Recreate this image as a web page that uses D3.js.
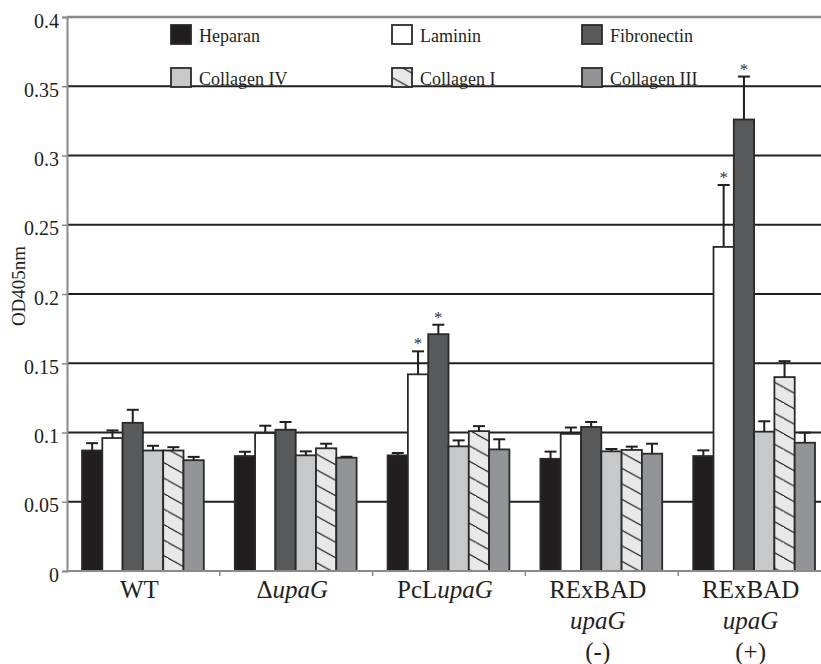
<!DOCTYPE html>
<html>
<head>
<meta charset="utf-8">
<script src="https://cdn.jsdelivr.net/npm/d3@7/dist/d3.min.js"></script>
<style>
  body { margin: 0; background: #fff; }
  svg text { font-family: "Liberation Serif", "Times New Roman", serif; fill: #231f20; }
</style>
</head>
<body>
<svg id="chart" width="821" height="664"></svg>
<script>
// groups along the x axis, each label is a list of lines made of [text, italic] parts
var groups = ["WT", "dupaG", "PcLupaG", "RExBAD-", "RExBAD+"];
var groupLabels = [
    [[["WT", false]]],
    [[["\u0394", false], ["upaG", true]]],
    [[["PcL", false], ["upaG", true]]],
    [[["RExBAD", false]], [["upaG", true]], [["(-)", false]]],
    [[["RExBAD", false]], [["upaG", true]], [["(+)", false]]]
];

// matrices (series)
var matrices = ["Heparan", "Laminin", "Fibronectin", "Collagen IV", "Collagen I", "Collagen III"];

// OD405nm per group, one array per matrix
var heparan     = [0.087, 0.083, 0.0835, 0.081, 0.083];
var laminin     = [0.096, 0.0996, 0.142, 0.099, 0.234];
var fibronectin = [0.107, 0.102, 0.171, 0.104, 0.326];
var collagenIV  = [0.087, 0.0835, 0.090, 0.0864, 0.1006];
var collagenI   = [0.087, 0.0886, 0.101, 0.0874, 0.140];
var collagenIII = [0.080, 0.0818, 0.0878, 0.0847, 0.0926];

// standard error (upper bars only)
var heparanErr     = [0.0053, 0.0031, 0.0017, 0.0052, 0.0041];
var lamininErr     = [0.0055, 0.0053, 0.0166, 0.0046, 0.0447];
var fibronectinErr = [0.0094, 0.0056, 0.0068, 0.0036, 0.031];
var collagenIVErr  = [0.0034, 0.0029, 0.0043, 0.0017, 0.0075];
var collagenIErr   = [0.0024, 0.0033, 0.0036, 0.0024, 0.0115];
var collagenIIIErr = [0.0024, 0.0007, 0.0073, 0.0072, 0.0073];

// significance markers (*)
var lamininSig     = [0, 0, 1, 0, 1];
var fibronectinSig = [0, 0, 1, 0, 1];

var yTicks = [0, 0.05, 0.1, 0.15, 0.2, 0.25, 0.3, 0.35, 0.4];

var values = [heparan, laminin, fibronectin, collagenIV, collagenI, collagenIII];
var errors = [heparanErr, lamininErr, fibronectinErr, collagenIVErr, collagenIErr, collagenIIIErr];
var sigs = [null, lamininSig, fibronectinSig, null, null, null];
var fills = ["#221e1f", "#ffffff", "#58595b", "#c7c8ca", "url(#hatch)", "#929497"];

var svg = d3.select("#chart");

var x0 = d3.scaleBand().domain(groups).range([67, 831]);
var x1 = d3.scaleBand().domain(matrices).range([15, x0.bandwidth() - 16]);
var y = d3.scaleLinear().domain([0, 0.4]).range([571, 17]);

// hatch pattern for collagen I
var hw = 28, hh = 15.5;
var defs = svg.append("defs");
var pat = defs.append("pattern")
    .attr("id", "hatch")
    .attr("patternUnits", "userSpaceOnUse")
    .attr("width", hw).attr("height", hh);
pat.append("rect").attr("width", hw).attr("height", hh).attr("fill", "#e8e8e8");
pat.append("path")
    .attr("d", "M-2," + (-2 * hh / hw) + "L" + (hw + 2) + "," + (hh + 2 * hh / hw) +
               "M" + (-hw - 2) + "," + (-2 * hh / hw) + "L2," + (hh + 2 * hh / hw) +
               "M" + (hw - 2) + "," + (-hh - 2 * hh / hw) + "L" + (2 * hw + 2) + "," + (2 * hh / hw))
    .attr("stroke", "#231f20").attr("stroke-width", 1.1);

// gridlines
svg.append("g").selectAll("line")
    .data(yTicks.filter(function(d){ return d > 0 && d < 0.4; }))
    .enter().append("line")
    .attr("x1", 67).attr("x2", 831)
    .attr("y1", function(d){ return y(d); })
    .attr("y2", function(d){ return y(d); })
    .attr("stroke", "#231f20").attr("stroke-width", 2);

// top frame
svg.append("line")
    .attr("x1", 67).attr("x2", 831).attr("y1", y(0.4)).attr("y2", y(0.4))
    .attr("stroke", "#8a8a8a").attr("stroke-width", 2.5);

// bars
var bars = [];
matrices.forEach(function(m, i){
    groups.forEach(function(g, j){
        bars.push({group: g, matrix: m, i: i, v: values[i][j], e: errors[i][j], sig: sigs[i] ? sigs[i][j] : 0});
    });
});

svg.append("g").selectAll("rect")
    .data(bars).enter().append("rect")
    .attr("x", function(d){ return x0(d.group) + x1(d.matrix); })
    .attr("y", function(d){ return y(d.v); })
    .attr("width", x1.bandwidth())
    .attr("height", function(d){ return y(0) - y(d.v); })
    .attr("fill", function(d){ return fills[d.i]; })
    .attr("stroke", "#2a2a2a")
    .attr("stroke-width", 1.8);

// error bars
var eb = svg.append("g").attr("stroke", "#231f20").attr("stroke-width", 2);
bars.forEach(function(d){
    var cx = x0(d.group) + x1(d.matrix) + x1.bandwidth() / 2;
    eb.append("line").attr("x1", cx).attr("x2", cx).attr("y1", y(d.v)).attr("y2", y(d.v + d.e));
    eb.append("line").attr("x1", cx - 6).attr("x2", cx + 6).attr("y1", y(d.v + d.e)).attr("y2", y(d.v + d.e));
    if (d.sig) {
        svg.append("text")
            .attr("x", cx).attr("y", y(d.v + d.e) - 2)
            .attr("text-anchor", "middle")
            .style("font-size", "17px")
            .style("fill", "#333")
            .text("*");
    }
});

// y axis
var yAxis = svg.append("g")
    .attr("transform", "translate(67,0)")
    .call(d3.axisLeft(y).tickValues(yTicks).tickSize(5).tickPadding(3)
        .tickFormat(function(d){ return d === 0 ? "0" : String(+d.toFixed(2)); }));
yAxis.select(".domain").attr("stroke", "#8a8a8a").attr("stroke-width", 2);
yAxis.selectAll(".tick line").attr("stroke", "#8a8a8a").attr("stroke-width", 1.5);
yAxis.selectAll(".tick text")
    .attr("dy", "0.5em")
    .style("font-size", "20px")
    .style("font-family", "Liberation Serif, serif")
    .attr("fill", "#231f20");

// x axis
var xAxis = svg.append("g")
    .attr("transform", "translate(0,571)");
xAxis.append("line").attr("x1", 67).attr("x2", 831)
    .attr("stroke", "#8a8a8a").attr("stroke-width", 2);
xAxis.selectAll(".sep")
    .data(groups.slice(1)).enter().append("line")
    .attr("x1", function(d){ return x0(d); })
    .attr("x2", function(d){ return x0(d); })
    .attr("y1", 0).attr("y2", 5)
    .attr("stroke", "#8a8a8a").attr("stroke-width", 1.5);

groups.forEach(function(g, j){
    var cx = x0(g) + x0.bandwidth() / 2 - 4;
    groupLabels[j].forEach(function(line, k){
        var t = svg.append("text")
            .attr("x", cx).attr("y", 598 + k * 31)
            .attr("text-anchor", "middle")
            .style("font-size", "25px");
        line.forEach(function(part){
            t.append("tspan")
                .style("font-style", part[1] ? "italic" : "normal")
                .text(part[0]);
        });
    });
});

// y axis title
svg.append("text")
    .attr("transform", "translate(25,286) rotate(-90)")
    .attr("text-anchor", "middle")
    .style("font-size", "19px")
    .text("OD405nm");

// legend
var legendCols = [171, 392, 582];
var legendRows = [25, 68];
matrices.forEach(function(m, i){
    var lx = legendCols[i % 3], ly = legendRows[Math.floor(i / 3)];
    svg.append("rect")
        .attr("x", lx).attr("y", ly).attr("width", 20).attr("height", 19)
        .attr("fill", fills[i]).attr("stroke", "#2a2a2a").attr("stroke-width", 1.8);
    svg.append("text")
        .attr("x", lx + 28).attr("y", ly + 17)
        .style("font-size", "18px")
        .text(m);
});
</script>
</body>
</html>
